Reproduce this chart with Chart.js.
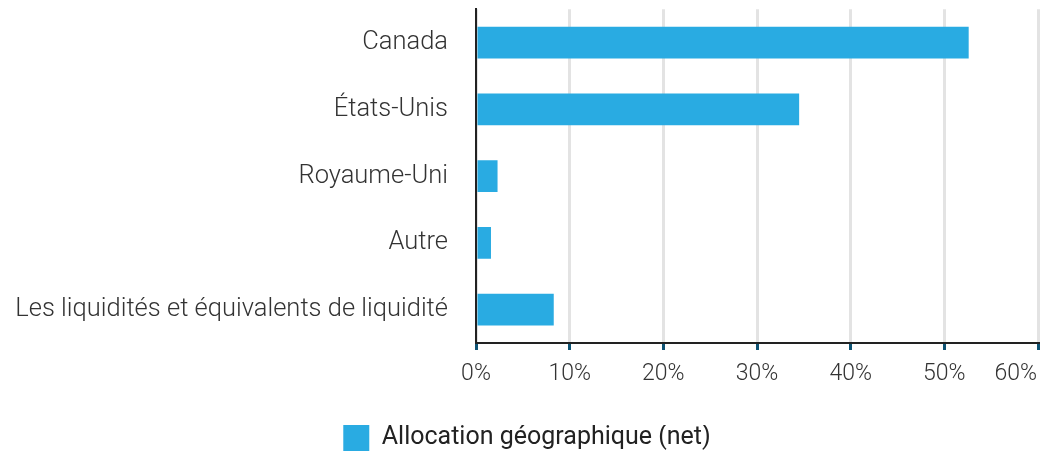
<!DOCTYPE html>
<html>
<head>
<meta charset="utf-8">
<script src="https://cdn.jsdelivr.net/npm/chart.js@4"></script>
<style>
html,body{margin:0;padding:0;background:#fff;}
#wrap{width:1054px;height:457px;}
</style>
</head>
<body>
<div id="wrap"><canvas id="c" width="1054" height="457"></canvas></div>
<script>
const categories = ["Canada", "États-Unis", "Royaume-Uni", "Autre", "Les liquidités et équivalents de liquidité"];
const values = [52.6, 34.5, 2.3, 1.6, 8.3];
const seriesName = "Allocation géographique (net)";
const tickValues = [0, 10, 20, 30, 40, 50, 60];
const tickLabels = tickValues.map(v => v + '%');

const tickFont = { family: 'Roboto', size: 23, weight: '300' };
const lastIdx = tickValues.length - 1;

// Draws the last x tick label right-aligned to its grid line (as in the reference)
const lastTickPlugin = {
  id: 'lastTick',
  afterDraw(chart) {
    const s = chart.scales.x;
    const items = s.getLabelItems();
    const ref = items[1];
    const c = chart.ctx;
    c.save();
    c.font = tickFont.weight + ' ' + tickFont.size + 'px ' + tickFont.family;
    c.fillStyle = '#333';
    c.textAlign = 'right';
    c.textBaseline = ref.options.textBaseline || 'middle';
    c.fillText(tickLabels[lastIdx], s.getPixelForValue(tickValues[lastIdx]) - 1,
      ref.options.translation[1] + (ref.textOffset || 0));
    c.restore();
  }
};

const ctx = document.getElementById('c');
new Chart(ctx, {
  type: 'bar',
  data: {
    labels: categories,
    datasets: [{
      label: seriesName,
      data: values,
      backgroundColor: '#29abe2',
      borderWidth: 0,
      categoryPercentage: 1,
      barPercentage: 0.478
    }]
  },
  options: {
    indexAxis: 'y',
    responsive: false,
    animation: false,
    devicePixelRatio: 1,
    layout: { padding: { top: 0, right: 16, left: 16, bottom: -4 } },
    scales: {
      x: {
        min: 0, max: 60,
        afterBuildTicks: (s) => { s.ticks = tickValues.map(v => ({value: v})); },
        afterFit: (s) => { s.height = 82; },
        grid: { color: '#e3e3e3', lineWidth: 3, tickColor: '#0e5374', tickLength: 7, tickWidth: 3 },
        border: { display: true, color: '#222', width: 2 },
        ticks: {
          callback: (v, i) => i === lastIdx ? '' : tickLabels[i],
          color: '#333',
          padding: 10,
          maxRotation: 0,
          autoSkip: false,
          font: tickFont
        }
      },
      y: {
        afterFit: (s) => { s.width = 460; },
        grid: { display: false, drawTicks: true, tickLength: 34 },
        border: { display: true, color: '#222', width: 2 },
        ticks: {
          color: '#333',
          padding: -6,
          font: { family: 'Roboto', size: 25.5, weight: '300' }
        }
      }
    },
    plugins: {
      legend: {
        position: 'bottom',
        labels: {
          boxWidth: 26, boxHeight: 26, padding: 0,
          color: '#222',
          font: { family: 'Roboto', size: 25, weight: '400' }
        }
      },
      tooltip: { enabled: false }
    }
  },
  plugins: [lastTickPlugin]
});
</script>
</body>
</html>
